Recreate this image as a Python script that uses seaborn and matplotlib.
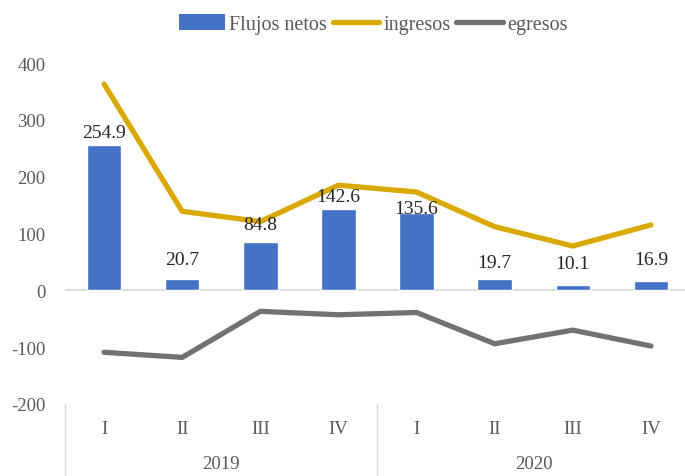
import matplotlib
matplotlib.use("Agg")
import matplotlib.pyplot as plt
import matplotlib.transforms as mtransforms
from matplotlib.patches import Patch
from matplotlib.lines import Line2D
import seaborn as sns
import pandas as pd

quarters = ["I", "II", "III", "IV", "I", "II", "III", "IV"]
years = ["2019", "2020"]
flujos_netos = [254.9, 20.7, 84.8, 142.6, 135.6, 19.7, 10.1, 16.9]
ingresos = [363, 139, 121, 185, 173, 112, 78, 115]
egresos = [-109, -118, -37, -43, -39, -94, -70, -98]
y_ticks = [400, 300, 200, 100, 0, -100, -200]

# vertical offset (px) of each data label centre above its bar top
label_offsets_px = [15, 21, 20, 15, 7, 19, 23, 23]

sns.set_theme(style="white")
plt.rcParams["font.family"] = ["Liberation Serif", "DejaVu Serif"]

BLUE = "#4472C4"
GOLD = "#DAA900"
GREY = "#767171"
TXT = "#595959"

df = pd.DataFrame({
    "pos": list(range(len(quarters))),
    "flujos": flujos_netos,
    "ingresos": ingresos,
    "egresos": egresos,
})

fig = plt.figure(figsize=(6.85, 4.77), dpi=100)
ax = fig.add_axes([65 / 685, (477 - 405) / 477, 625 / 685, (405 - 64) / 477])

sns.barplot(data=df, x="pos", y="flujos", color=BLUE, width=0.44, ax=ax,
            saturation=1, native_scale=True, zorder=2)
sns.lineplot(data=df, x="pos", y="ingresos", color=GOLD, lw=3.8, ax=ax,
             zorder=3, solid_capstyle="round", solid_joinstyle="miter")
sns.lineplot(data=df, x="pos", y="egresos", color=GREY, lw=3.8, ax=ax,
             zorder=3, solid_capstyle="round", solid_joinstyle="miter")

for i, v in enumerate(flujos_netos):
    ax.annotate(f"{v:.1f}", (i, v), xytext=(0, label_offsets_px[i] * 0.72),
                textcoords="offset points", ha="center", va="center_baseline",
                fontsize=14, color="#262626", zorder=4)

ax.axhline(0, color="#D9D9D9", lw=1.3, zorder=1)
ax.set_ylim(-200, 400)
ax.set_xlim(-0.5, 7.5)
ax.set_yticks(y_ticks)
ax.set_yticklabels([str(t) for t in y_ticks], fontsize=13.5, color=TXT)
ax.tick_params(axis="y", length=0, pad=14)
ax.set_xticks([])
ax.set_xlabel("")
ax.set_ylabel("")
for s in ax.spines.values():
    s.set_visible(False)

trans = mtransforms.blended_transform_factory(ax.transData, fig.transFigure)
for i, q in enumerate(quarters):
    ax.text(i, 1 - 430 / 477, q, transform=trans, ha="center", va="center",
            fontsize=13.5, color=TXT)
for k, y in enumerate(years):
    ax.text(1.5 + 4 * k, 1 - 465 / 477, y, transform=trans, ha="center",
            va="center", fontsize=13.5, color=TXT)
for xs in [-0.5, 3.5, 7.5]:
    ax.add_line(Line2D([xs, xs], [0, 1 - 405 / 477], transform=trans,
                       color="#D9D9D9", lw=1, clip_on=False))

handles = [
    Patch(facecolor=BLUE, edgecolor="none"),
    Line2D([], [], color=GOLD, lw=3.8, solid_capstyle="round"),
    Line2D([], [], color=GREY, lw=3.8, solid_capstyle="round"),
]
fig.legend(handles, ["Flujos netos", "ingresos", "egresos"], ncol=3,
           loc="center", bbox_to_anchor=(373 / 685, 1 - 25 / 477), frameon=False,
           fontsize=14.5, labelcolor=TXT, handlelength=2.3, handletextpad=0.2,
           columnspacing=0.3, handleheight=0.8)

fig.savefig("out.png", dpi=100)
